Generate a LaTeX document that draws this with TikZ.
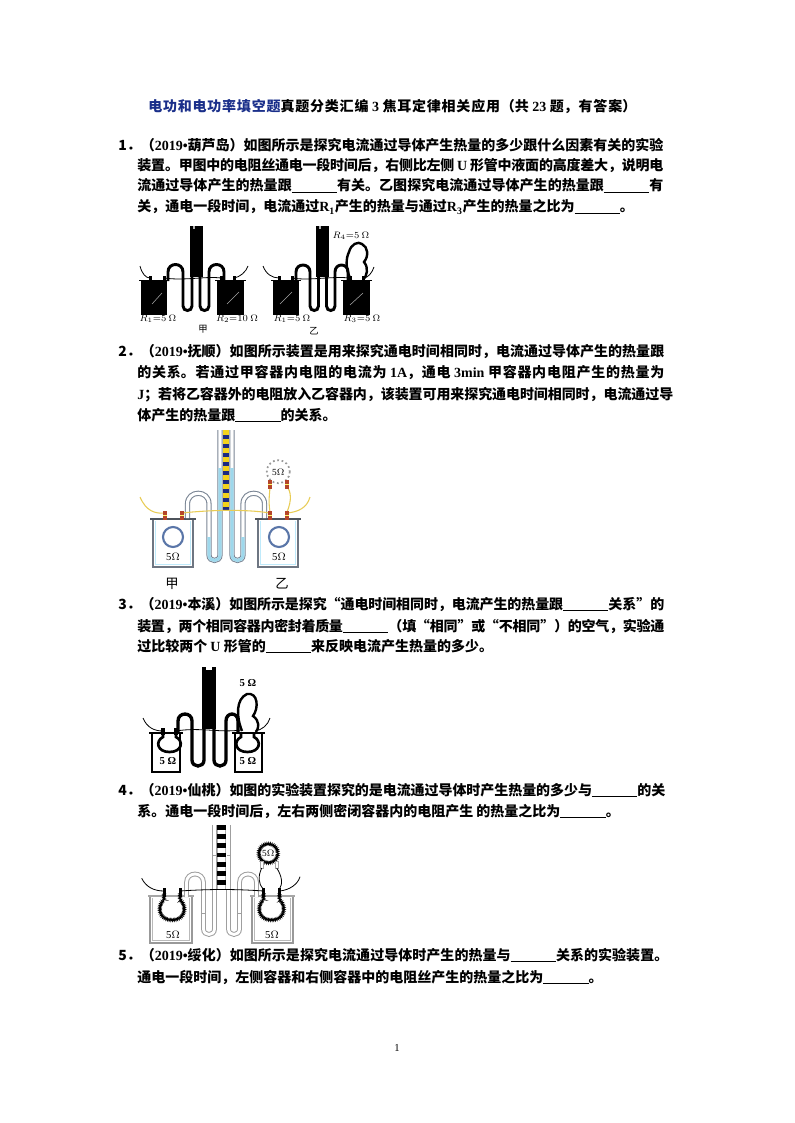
\documentclass[tikz,border=0pt]{standalone}
\usepackage{fontspec}
\setmainfont{Liberation Serif}
\newfontfamily\cjk{Noto Sans CJK SC}
\usetikzlibrary{decorations.pathmorphing}
\definecolor{titleblue}{HTML}{1A2F8A}
\definecolor{tubeg}{HTML}{7A8594}
\definecolor{waterc}{HTML}{9ED8EC}
\definecolor{wirey}{HTML}{E8CC55}
\definecolor{scaley}{HTML}{F2D21B}
\definecolor{scaleb}{HTML}{1C2A80}
\definecolor{elec}{HTML}{B5452A}
\definecolor{ringc}{HTML}{5A76A8}
\definecolor{beakg}{HTML}{6E7682}
\newcommand\ls[1]{{\rmfamily\bfseries #1}}
\newcommand\dotb{{\rmfamily\bfseries •}}
\newcommand\blank{\rule[-1.5pt]{34pt}{0.5pt}}
\newcommand\jl[2]{\parbox[b]{#1}{\XeTeXlinebreaklocale "zh"\XeTeXlinebreakskip=0pt plus 3pt minus 0.6pt\parfillskip=0pt\relax\noindent #2\par}}
\begin{document}
\begin{tikzpicture}[x=0.75pt,y=-0.75pt,
  t/.style={anchor=base west,inner sep=0pt,font=\cjk\bfseries\fontsize{10.5}{12}\selectfont},
  lab/.style={inner sep=0pt,font=\fontsize{7}{8}\selectfont},
  lab2/.style={inner sep=0pt,font=\fontsize{8}{9}\selectfont},
  cjklab/.style={inner sep=0pt,font=\cjk\fontsize{10}{11}\selectfont},
  btube/.style={line width=2.2pt,black},
  thinw/.style={line width=0.6pt,black},
  fuzzy/.style={line width=0.8pt,decorate,decoration={zigzag,segment length=1.2pt,amplitude=0.75pt}}]
\useasboundingbox (0,0) rectangle (794,1123);
\fill[white] (0,0) rectangle (794,1123);

% ---------- texts ----------
\node[t] (title) at (148,112) {\jl{366pt}{{\color{titleblue}电功和电功率填空题}真题分类汇编 \ls{3} 焦耳定律相关应用（共 \ls{23} 题，有答案）}};

\node[t] (q1a) at (118,151) {\jl{408.75pt}{1．（\ls{2019}\dotb 葫芦岛）如图所示是探究电流通过导体产生热量的多少跟什么因素有关的实验}};
\node[t] (q1b) at (137,171) {\jl{394.5pt}{装置。甲图中的电阻丝通电一段时间后，右侧比左侧 \ls{U} 形管中液面的高度差大，说明电}};
\node[t] (q1c) at (137,191) {\jl{394.5pt}{流通过导体产生的热量跟\blank{}有关。乙图探究电流通过导体产生的热量跟\blank{}有}};
\node[t] (q1d) at (137,212) {关，通电一段时间，电流通过\ls{R}\textsubscript{\ls{1}}产生的热量与通过\ls{R}\textsubscript{\ls{3}}产生的热量之比为\blank{}。};

\node[t] (q2a) at (118,356) {\jl{409.5pt}{2．（\ls{2019}\dotb 抚顺）如图所示装置是用来探究通电时间相同时，电流通过导体产生的热量跟}};
\node[t] (q2b) at (137,377) {\jl{395.25pt}{的关系。若通过甲容器内电阻的电流为 \ls{1A}，通电 \ls{3min} 甲容器内电阻产生的热量为}};
\node[t] (q2c) at (137,399) {\jl{402pt}{\ls{J}；若将乙容器外的电阻放入乙容器内，该装置可用来探究通电时间相同时，电流通过导}};
\node[t] (q2d) at (137,420) {体产生的热量跟\blank{}的关系。};

\node[t] (q3a) at (118,609) {\jl{409.5pt}{3．（\ls{2019}\dotb 本溪）如图所示是探究“通电时间相同时，电流产生的热量跟\blank{}关系”的}};
\node[t] (q3b) at (137,631) {\jl{395.25pt}{装置，两个相同容器内密封着质量\blank{}（填“相同”或“不相同”）的空气，实验通}};
\node[t] (q3c) at (137,651) {过比较两个 \ls{U} 形管的\blank{}来反映电流产生热量的多少。};

\node[t] (q4a) at (118,795) {\jl{410.25pt}{4．（\ls{2019}\dotb 仙桃）如图的实验装置探究的是电流通过导体时产生热量的多少与\blank{}的关}};
\node[t] (q4b) at (137,816) {系。通电一段时间后，左右两侧密闭容器内的电阻产生 的热量之比为\blank{}。};

\node[t] (q5a) at (118,960) {\jl{412.5pt}{5．（\ls{2019}\dotb 绥化）如图所示是探究电流通过导体时产生的热量与\blank{}关系的实验装置。}};
\node[t] (q5b) at (137,982) {通电一段时间，左侧容器和右侧容器中的电阻丝产生的热量之比为\blank{}。};

\node[lab2] (pg) at (397,1048) {1};

% ---------- figure 1 ----------
% left set
\fill (141,281) rectangle (167,315);
\fill (217,281) rectangle (244,315);
\draw[line width=1pt] (139,280.5) -- (169,280.5);
\draw[line width=1pt] (215,280.5) -- (246,280.5);
\foreach \x in {150,164,221,234} \fill (\x-1.5,276) rectangle (\x+1.5,281);
\draw[gray!70,line width=0.4pt] (152,304) -- (162,293);
\draw[gray!70,line width=0.4pt] (227,304) -- (239,292);
\fill (190,226) rectangle (203,277);
\fill[gray!60] (193,226) rectangle (195,229);
\draw[btube] (168,281) -- (168,272) .. controls (168,262) and (183,262) .. (183,272) -- (183,306) .. controls (183,312) and (192,312) .. (192,306) -- (192,276);
\draw[btube] (200,276) -- (200,306) .. controls (200,312) and (209,312) .. (209,306) -- (209,272) .. controls (209,262) and (224,262) .. (224,272) -- (224,281);
\draw[thinw] (140,266) .. controls (142,274) and (146,278) .. (150,278);
\draw[thinw] (164,278) .. controls (185,281) and (205,276) .. (221,278);
\draw[thinw] (234,278) .. controls (240,277) and (246,272) .. (248,266);
\node[lab] (r1a) at (158,319) {$R_1{=}5\ \Omega$};
\node[lab] (r2a) at (237,319) {$R_2{=}10\ \Omega$};
\node[inner sep=0pt,font=\cjk\fontsize{7}{8}\selectfont] (jia1) at (203,329) {甲};
% right set
\fill (273,281) rectangle (299,315);
\fill (343,281) rectangle (370,315);
\draw[line width=1pt] (271,280.5) -- (301,280.5);
\draw[line width=1pt] (341,280.5) -- (372,280.5);
\foreach \x in {279,292,350,363} \fill (\x-1.5,276) rectangle (\x+1.5,281);
\draw[gray!70,line width=0.4pt] (280,304) -- (292,292);
\draw[gray!70,line width=0.4pt] (350,305) -- (363,293);
\fill (316,226) rectangle (329,277);
\fill[gray!60] (319,226) rectangle (321,229);
\draw[btube] (296,281) -- (296,272) .. controls (296,262.7) and (310,262.7) .. (310,272) -- (310,306) .. controls (310,312) and (318.5,312) .. (318.5,306) -- (318.5,276);
\draw[btube] (326.5,276) -- (326.5,306) .. controls (326.5,312) and (335,312) .. (335,306) -- (335,272) .. controls (335,262.7) and (348,262.7) .. (348,272) -- (348,281);
\draw[line width=1.8pt] (351,280) .. controls (345,268) and (346,258) .. (349,252) .. controls (351,244) and (358,241) .. (362,244) .. controls (368,247) and (369,256) .. (364,262) .. controls (369,268) and (367,276) .. (363,280);
\draw[thinw] (263,266) .. controls (266,274) and (272,278) .. (279,278);
\draw[thinw] (292,278) .. controls (310,281) and (330,276) .. (350,278);
\draw[thinw] (363,278) .. controls (368,278) and (372,273) .. (374,267);
\node[lab] (r1b) at (292,319) {$R_1{=}5\ \Omega$};
\node[lab] (r3b) at (362,319) {$R_3{=}5\ \Omega$};
\node[lab] (r4b) at (351,236) {$R_4{=}5\ \Omega$};
\node[inner sep=0pt,font=\cjk\fontsize{7}{8}\selectfont] (yi1) at (314,331) {乙};

% ---------- figure 2 ----------
\foreach \a/\b in {153/193,258/298}{
  \fill[white] (\a,519) rectangle (\b,567);
  \draw[cyan!25,line width=0.9pt] (\a+2.5,521) -- (\a+2.5,564.5) -- (\b-2.5,564.5) -- (\b-2.5,521);
  \draw[beakg,line width=1.1pt] (\a,519) -- (\a,567) -- (\b,567) -- (\b,519);
  \draw[beakg!70!black,line width=1.8pt] (\a-3,519) -- (\b+3,519);
}
\draw[ringc,line width=1.6pt] (173,537) circle[radius=10];
\draw[ringc,line width=1.6pt] (279,537) circle[radius=10];
\node[lab2] (o1) at (173,557) {5$\Omega$};
\node[lab2] (o2) at (279,557) {5$\Omega$};
% U tubes
\draw[tubeg,line width=3.9pt] (187.5,518) -- (187.5,504) .. controls (187.5,489.7) and (209,489.7) .. (209,504) -- (209,555) .. controls (209,562.3) and (220,562.3) .. (220,555) -- (220,430);
\draw[white,line width=2.3pt] (187.5,518) -- (187.5,504) .. controls (187.5,489.7) and (209,489.7) .. (209,504) -- (209,555) .. controls (209,562.3) and (220,562.3) .. (220,555) -- (220,430);
\draw[tubeg,line width=3.9pt] (232,430) -- (232,555) .. controls (232,562.3) and (243,562.3) .. (243,555) -- (243,504) .. controls (243,489.7) and (264.5,489.7) .. (264.5,504) -- (264.5,518);
\draw[white,line width=2.3pt] (232,430) -- (232,555) .. controls (232,562.3) and (243,562.3) .. (243,555) -- (243,504) .. controls (243,489.7) and (264.5,489.7) .. (264.5,504) -- (264.5,518);
\draw[waterc,line width=2.3pt] (209,537) -- (209,555) .. controls (209,562.3) and (220,562.3) .. (220,555) -- (220,468);
\draw[waterc,line width=2.3pt] (232,468) -- (232,555) .. controls (232,562.3) and (243,562.3) .. (243,555) -- (243,537);
% scale
\fill[white] (222.8,430) rectangle (229.2,511);
\foreach \i in {0,...,8}{
  \fill[scaley] (223,430+9*\i) rectangle (229,434.5+9*\i);
  \fill[scaleb] (223,434.5+9*\i) rectangle (229,439+9*\i);
}
% external resistor
\draw[gray!80,line width=1.3pt,dotted] (278.3,471.7) circle[radius=11.5];
\node[lab] (o3) at (278.3,472) {5$\Omega$};
% wires
\draw[wirey,line width=0.8pt] (140,497) .. controls (146,511) and (155,514) .. (165,513);
\draw[wirey,line width=0.8pt] (182,513) .. controls (210,510) and (245,509) .. (270,513);
\draw[wirey,line width=0.8pt] (270,512) .. controls (268,500) and (270,492) .. (270,486);
\draw[wirey,line width=0.8pt] (287,512) .. controls (292,500) and (291,492) .. (287,486);
\draw[wirey,line width=0.8pt] (287,513) .. controls (298,512) and (307,508) .. (310,497);
\foreach \x/\y in {165/511,182/511,270/511,287/511,270/480,287/480}{
  \fill[elec] (\x-1.6,\y) rectangle (\x+1.6,\y+9);
  \fill[yellow!60] (\x-1.6,\y+3.5) rectangle (\x+1.6,\y+5);
}
\node[cjklab] (jia2) at (172,584) {甲};
\node[cjklab] (yi2) at (282,584) {乙};

% ---------- figure 3 ----------
\foreach \a/\b in {152/180,235/262}{
  \fill[white] (\a,733) rectangle (\b,772);
  \draw[line width=1.4pt] (\a,733) -- (\a,772) -- (\b,772) -- (\b,733);
  \draw[line width=1.5pt] (\a-3,733) -- (\b+3,733);
}
\foreach \x in {163,176} \fill (\x-1.6,728) rectangle (\x+1.6,735);
\draw[line width=2pt] (163,733) -- (163,737) .. controls (155,741) and (157,752) .. (169.5,752) .. controls (182,752) and (184,741) .. (176,737) -- (176,733);
\draw[line width=2pt] (241,733) -- (241,737) .. controls (233,741) and (235,752) .. (247.5,752) .. controls (260,752) and (262,741) .. (254,737) -- (254,733);
\node[lab2] (o4) at (168,761) {\bfseries 5 Ω};
\node[lab2] (o5) at (248,761) {\bfseries 5 Ω};
\fill (202,667) rectangle (216,729);
\fill[white] (206,667) rectangle (212,669.5);
\draw[line width=2.5pt] (178,733) -- (178,721) .. controls (178,711.7) and (192,711.7) .. (192,721) -- (192,760) .. controls (192,768) and (204,768) .. (204,760) -- (204,728);
\draw[line width=2.5pt] (214,728) -- (214,760) .. controls (214,768) and (226,768) .. (226,760) -- (226,721) .. controls (226,711.7) and (238,711.7) .. (238,721) -- (238,733);
\draw[line width=1.8pt] (242,731) .. controls (236,716) and (236,699) .. (247,694) .. controls (258,692) and (259,708) .. (253,716) .. controls (260,721) and (259,728) .. (256,732);
\node[lab2] (o6) at (248,683) {\bfseries 5 Ω};
\draw[thinw] (143,718) .. controls (147,728) and (155,731) .. (163,731);
\draw[thinw] (176,731) .. controls (200,727) and (220,733) .. (241,730);
\draw[thinw] (255,731) .. controls (262,730) and (268,725) .. (270,718);

% ---------- figure 4 ----------
\foreach \a/\b in {150/192,252/293}{
  \fill[white] (\a,896) rectangle (\b,943);
  \draw[gray!55,line width=0.6pt] (\a+2.5,898) -- (\a+2.5,940.5) -- (\b-2.5,940.5) -- (\b-2.5,898);
  \draw[gray!80,line width=0.9pt] (\a,896) -- (\a,943) -- (\b,943) -- (\b,896);
  \draw[gray!70,line width=2.2pt] (\a-2,896) -- (\b+2,896);
}
\draw[fuzzy] (164,893) -- (164,900) .. controls (157,905) and (158,920) .. (172,920) .. controls (186,920) and (187,905) .. (180,900) -- (180,893);
\draw[fuzzy] (263.5,893) -- (263.5,900) .. controls (256.5,905) and (257.5,920) .. (271.5,920) .. controls (285.5,920) and (286.5,905) .. (279.5,900) -- (279.5,893);
\foreach \x in {164,180,263.5,279.5} \fill (\x-1.5,888) rectangle (\x+1.5,897);
\node[lab2] (o7) at (173,935) {5$\Omega$};
\node[lab2] (o8) at (272,935) {5$\Omega$};
\draw[gray!75,line width=3.6pt] (186.5,897) -- (186.5,882.5) .. controls (186.5,871.2) and (203.5,871.2) .. (203.5,882.5) -- (203.5,929) .. controls (203.5,936.3) and (214.5,936.3) .. (214.5,929) -- (214.5,825);
\draw[white,line width=2.1pt] (186.5,897) -- (186.5,882.5) .. controls (186.5,871.2) and (203.5,871.2) .. (203.5,882.5) -- (203.5,929) .. controls (203.5,936.3) and (214.5,936.3) .. (214.5,929) -- (214.5,825);
\draw[gray!75,line width=3.6pt] (228.5,825) -- (228.5,929) .. controls (228.5,936.3) and (239.5,936.3) .. (239.5,929) -- (239.5,882.5) .. controls (239.5,871.2) and (256.5,871.2) .. (256.5,882.5) -- (256.5,897);
\draw[white,line width=2.1pt] (228.5,825) -- (228.5,929) .. controls (228.5,936.3) and (239.5,936.3) .. (239.5,929) -- (239.5,882.5) .. controls (239.5,871.2) and (256.5,871.2) .. (256.5,882.5) -- (256.5,897);
\draw[gray!75,line width=0.6pt] (201.5,913) -- (205.5,913) (212.5,855) -- (216.5,855) (226.5,855) -- (230.5,855) (237.5,913) -- (241.5,913);
\fill[white] (216.5,825) rectangle (226.5,889);
\draw[gray!60,line width=0.4pt] (217.3,825) rectangle (225.7,889);
\foreach \i in {0,...,6} \fill (217.3,825+9.2*\i) rectangle (225.7,829.8+9.2*\i);
\draw[fuzzy] (268.3,853.3) circle[radius=9.5];
\node[lab] (o9) at (268.3,853.5) {5$\Omega$};
\foreach \x in {261.7,276.7} \draw[gray!70,fill=white,line width=0.5pt] (\x-1.6,861) rectangle (\x+1.6,868);
\draw[thinw] (261.7,868) .. controls (258,876) and (258,884) .. (263.5,889);
\draw[thinw] (276.7,868) .. controls (282,876) and (283,884) .. (279.5,889);
\draw[thinw] (141.7,878.3) .. controls (146,887) and (154,891) .. (164,891);
\draw[thinw] (180,891) .. controls (210,889) and (235,889) .. (263.5,891);
\draw[thinw] (279.5,891) .. controls (290,890) and (298,884) .. (300,876.7);
\end{tikzpicture}
\end{document}
